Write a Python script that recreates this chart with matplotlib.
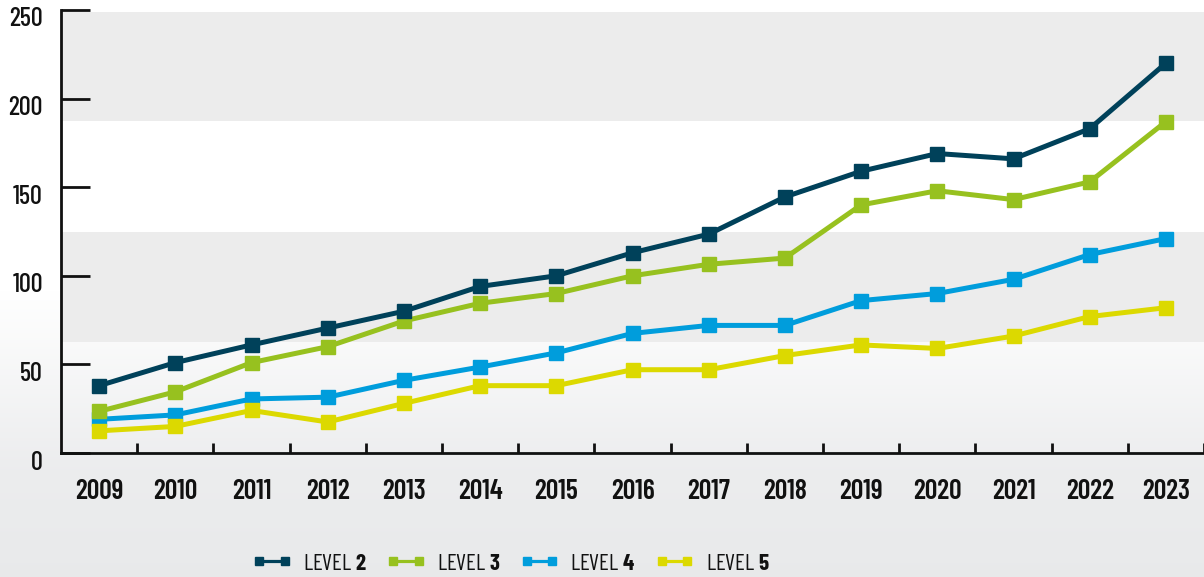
import matplotlib
matplotlib.use("Agg")
import matplotlib.pyplot as plt
import numpy as np
from matplotlib.lines import Line2D
import matplotlib.transforms as mtransforms

years = ["2009", "2010", "2011", "2012", "2013", "2014", "2015", "2016",
         "2017", "2018", "2019", "2020", "2021", "2022", "2023"]
level2 = [38, 51, 61, 70.5, 80, 94, 100, 113, 123.5, 144.5, 159, 169, 166, 183, 220]
level3 = [23.5, 34.5, 51, 60, 74.5, 84.5, 90, 100, 106.5, 110, 140, 148, 143, 153, 187]
level4 = [19, 21.5, 30.5, 31.5, 41, 48.5, 56.5, 67.5, 72, 72, 86, 90, 98, 112, 121]
level5 = [12.5, 15, 24, 17.5, 28, 38, 38, 47, 47, 55, 61, 59, 66, 77, 82]
series_names = ["2", "3", "4", "5"]
colors = ["#00415a", "#97c11f", "#009ddc", "#dcd900"]
yticks = [0, 50, 100, 150, 200, 250]

FAM = "Barlow Condensed"
plt.rcParams['font.family'] = [FAM, "DejaVu Sans"]
plt.rcParams['mathtext.fontset'] = 'custom'
plt.rcParams['mathtext.rm'] = FAM
plt.rcParams['mathtext.bf'] = FAM + ':bold'

W, H = 1204, 577
fig = plt.figure(figsize=(W / 100, H / 100), dpi=100)

# background gradient (top white -> light grey bottom)
bg = fig.add_axes([0, 0, 1, 1], zorder=-10)
bg.axis("off")
ypix = np.arange(H)
stops_y = [0, 290, 470, 577]
stops_v = [[1, 1, 1], [1, 1, 1], [0.925, 0.928, 0.933], [0.912, 0.916, 0.920]]
grad = np.stack([np.interp(ypix, stops_y, [s[k] for s in stops_v]) for k in range(3)], axis=1)
bg.imshow(np.repeat(grad[:, None, :], 2, axis=1), aspect="auto", extent=[0, 1, 0, 1])
bg.set_xlim(0, 1); bg.set_ylim(0, 1)

left = 61 / W
bottom = 1 - 453 / H
topp = 1 - 10 / H
ax = fig.add_axes([left, bottom, 1 - left, topp - bottom])
ax.patch.set_alpha(0)

x = np.arange(len(years))
ax.set_xlim(-0.5, 14.48)
ax.set_ylim(0, 250)

ax.axhspan(187.5, 249, color="#ececec", zorder=0, lw=0)
ax.axhspan(125, 187.5, color="#ffffff", zorder=0, lw=0)
ax.axhspan(62.5, 125, color="#ececec", zorder=0, lw=0)

data = [level2, level3, level4, level5]
zorders = [6, 4, 3, 5]
handles = []
for vals, c, z in zip(data, colors, zorders):
    ax.plot(x, vals, color=c, lw=3.6, marker="s", ms=10, mec=c, mfc=c, zorder=z)
    handles.append(Line2D([0], [0], color=c, lw=2.3, marker="s", ms=6, mec=c, mfc=c))

for s in ["top", "right"]:
    ax.spines[s].set_visible(False)
for s in ["left", "bottom"]:
    ax.spines[s].set_linewidth(2)
    ax.spines[s].set_color("#111111")

ax.set_yticks(yticks)
ax.set_yticklabels([str(v) for v in yticks], fontsize=19, fontweight="medium", color="#111111")
ax.tick_params(axis="y", direction="in", length=21, width=2, color="#111111", pad=13)
offset = mtransforms.ScaledTranslation(0, -7 / 100, fig.dpi_scale_trans)
for lab in ax.get_yticklabels():
    lab.set_transform(lab.get_transform() + offset)

ax.set_xticks(x + 0.5)
ax.set_xticklabels([])
ax.set_xticks(x, minor=True)
ax.set_xticklabels(years, minor=True, fontsize=20, fontweight="semibold", color="#111111")
ax.tick_params(axis="x", which="major", direction="in", length=7.5, width=2, color="#111111")
ax.tick_params(axis="x", which="minor", length=0, pad=19)

labels = [f"LEVEL $\\mathbf{{{nm}}}$" for nm in series_names]
leg = fig.legend(handles, labels, loc="center", bbox_to_anchor=(0.4245, 1 - 564 / H),
                 ncol=4, frameon=False, numpoints=2, handlelength=1.7, handletextpad=0.5,
                 columnspacing=0.85, prop={"size": 16.5, "weight": "normal"})
for t in leg.get_texts():
    t.set_color("#111111")

fig.savefig("out.png", dpi=100)
